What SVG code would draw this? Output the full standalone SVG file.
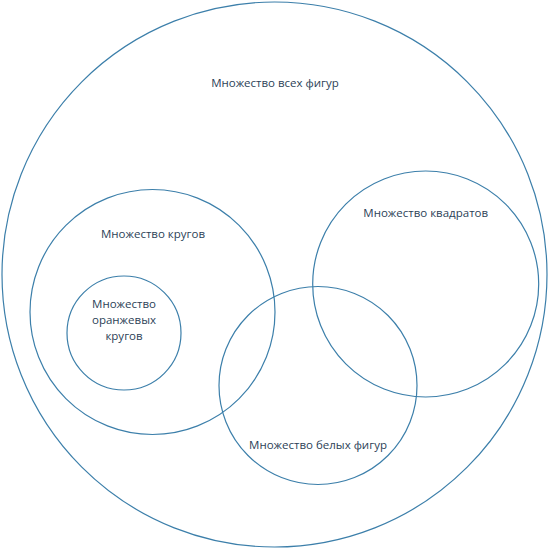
<svg xmlns="http://www.w3.org/2000/svg" width="549" height="549" viewBox="0 0 549 549">
<style>
.set{fill:none;stroke:#3C7FAA;stroke-width:1.2}
.lbl{font-family:"Open Sans","Noto Sans","Liberation Sans",sans-serif;font-size:11.5px;fill:#2C4257;text-anchor:middle}
</style>
<rect width="549" height="549" fill="#ffffff"/>
<g id="all">
<circle class="set" cx="274.5" cy="274.5" r="272.5"/>
<text class="lbl" x="275" y="87">Множество всех фигур</text>
</g>
<g id="circles">
<circle class="set" cx="152.5" cy="312" r="122.5"/>
<text class="lbl" x="153" y="238">Множество кругов</text>
</g>
<g id="orange">
<circle class="set" cx="124" cy="333" r="57"/>
<text class="lbl" x="124" y="308">Множество</text>
<text class="lbl" x="124" y="323.5">оранжевых</text>
<text class="lbl" x="124" y="339.5">кругов</text>
</g>
<g id="squares">
<circle class="set" cx="425.7" cy="284" r="113"/>
<text class="lbl" x="425.7" y="217">Множество квадратов</text>
</g>
<g id="white">
<circle class="set" cx="318" cy="385.5" r="99"/>
<text class="lbl" x="318" y="449">Множество белых фигур</text>
</g>
<g id="connectors"/>
</svg>
